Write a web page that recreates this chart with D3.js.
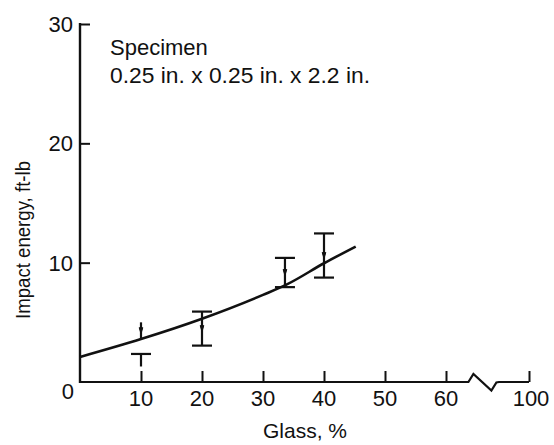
<!DOCTYPE html>
<html>
<head>
<meta charset="utf-8">
<script src="https://cdn.jsdelivr.net/npm/d3@7"></script>
<style>
  html, body { margin: 0; padding: 0; background: #fff; }
  svg text { font-family: "Liberation Sans", Arial, sans-serif; fill: #111; }
</style>
</head>
<body>
<svg id="chart" width="554" height="445"></svg>
<script>
// ---- data ----
const curveGlass  = [0, 10, 20, 30, 34, 40, 45.2];
const curveEnergy = [2.1, 3.6, 5.3, 7.3, 8.2, 9.95, 11.35];

const barGlass = [10, 20, 33.6, 40];
const barHigh  = [5.0, 5.9, 10.4, 12.45];
const barLow   = [2.35, 3.05, 7.95, 8.75];
const barTopCap = [false, true, true, true];
// at 10 %: stem from top down to the curve, a gap, then a "T" with a tail
const gapTop    = [3.6, null, null, null];
const tailLow   = [1.3, null, null, null];

const xTicks = [10, 20, 30, 40, 50, 60, 100];
const yTicks = [10, 20, 30];

// ---- layout ----
const svg = d3.select("#chart");
const x = d3.scaleLinear().domain([0, 64, 95, 100]).range([80, 470.4, 499, 529]);
const y = d3.scaleLinear().domain([0, 30]).range([382, 24]);
const ink = "#111";

// y axis
const yAxis = d3.axisRight(y).tickValues(yTicks).tickSize(10).tickSizeOuter(0).tickFormat("");
const gy = svg.append("g").attr("transform", `translate(${x(0)},0)`).call(yAxis);
gy.select(".domain").remove();
gy.selectAll(".tick line").attr("stroke", ink).attr("stroke-width", 2);
svg.append("line").attr("x1", x(0)).attr("x2", x(0)).attr("y1", y(30) - 1).attr("y2", y(0) + 1)
  .attr("stroke", ink).attr("stroke-width", 2.4);

// y tick labels
svg.append("g").selectAll("text").data(yTicks).join("text")
  .attr("x", 73).attr("y", d => y(d)).attr("dy", "0.36em")
  .attr("text-anchor", "end").attr("font-size", 22).text(d => d);
svg.append("text").attr("x", 74).attr("y", 399).attr("text-anchor", "end")
  .attr("font-size", 22).text("0");

// x axis with break
const xb0 = x(64), xb1 = x(95);
svg.append("path")
  .attr("d", `M${x(0)},${y(0)} H${xb0 - 2} L${xb0 + 3},${y(0) - 8} L${xb0 + 21},${y(0) + 8.5} L${xb0 + 26},${y(0) + 0.5} L${xb1},${y(0)} H${x(100)}`)
  .attr("fill", "none").attr("stroke", ink).attr("stroke-width", 2.2).attr("stroke-linejoin", "miter");

const xAxis = d3.axisTop(x).tickValues(xTicks).tickSize(11).tickSizeOuter(0).tickFormat("");
const gx = svg.append("g").attr("transform", `translate(0,${y(0)})`).call(xAxis);
gx.select(".domain").remove();
gx.selectAll(".tick line").attr("stroke", ink).attr("stroke-width", 2);

svg.append("g").selectAll("text").data(xTicks).join("text")
  .attr("x", d => x(d) + (d === 100 ? 2 : 0)).attr("y", 406)
  .attr("text-anchor", "middle").attr("font-size", 22).text(d => d);

// axis titles
svg.append("text").attr("x", 305).attr("y", 438).attr("text-anchor", "middle")
  .attr("font-size", 21).text("Glass, %");
svg.append("text").attr("transform", "translate(30,240) rotate(-90)")
  .attr("text-anchor", "middle").attr("font-size", 20)
  .attr("textLength", 158).attr("lengthAdjust", "spacingAndGlyphs")
  .text("Impact energy, ft-lb");

// annotation
svg.append("text").attr("x", 110).attr("y", 55).attr("font-size", 22).text("Specimen");
svg.append("text").attr("x", 110).attr("y", 83).attr("font-size", 22)
  .attr("textLength", 260).attr("lengthAdjust", "spacingAndGlyphs")
  .text("0.25 in. x 0.25 in. x 2.2 in.");

// curve
const pts = curveGlass.map((g, i) => [g, curveEnergy[i]]);
svg.append("path").datum(pts)
  .attr("d", d3.line().x(d => x(d[0])).y(d => y(d[1])).curve(d3.curveMonotoneX))
  .attr("fill", "none").attr("stroke", ink).attr("stroke-width", 2.6);

// error bars
const cap = 10;
const gb = svg.append("g").attr("stroke", ink).attr("stroke-width", 2.2).attr("fill", "none");
barGlass.forEach((g, i) => {
  const cx = x(g);
  if (gapTop[i] !== null) {
    gb.append("line").attr("x1", cx).attr("x2", cx).attr("y1", y(barHigh[i])).attr("y2", y(gapTop[i]));
    gb.append("line").attr("x1", cx).attr("x2", cx).attr("y1", y(barLow[i])).attr("y2", y(tailLow[i]));
  } else {
    gb.append("line").attr("x1", cx).attr("x2", cx).attr("y1", y(barHigh[i])).attr("y2", y(barLow[i]));
  }
  if (barTopCap[i]) {
    gb.append("line").attr("x1", cx - cap).attr("x2", cx + cap).attr("y1", y(barHigh[i])).attr("y2", y(barHigh[i]));
  }
  gb.append("line").attr("x1", cx - cap).attr("x2", cx + cap).attr("y1", y(barLow[i])).attr("y2", y(barLow[i]));
  // slight arrow-like thickening on the stem
  const top = barHigh[i], bot = gapTop[i] !== null ? gapTop[i] : barLow[i];
  const mid = (top + bot) / 2;
  gb.append("path")
    .attr("d", `M${cx - 1.8},${y(mid) - 3} L${cx},${y(mid) + 3} L${cx + 1.8},${y(mid) - 3} Z`)
    .attr("fill", ink).attr("stroke-width", 1);
});
</script>
</body>
</html>
